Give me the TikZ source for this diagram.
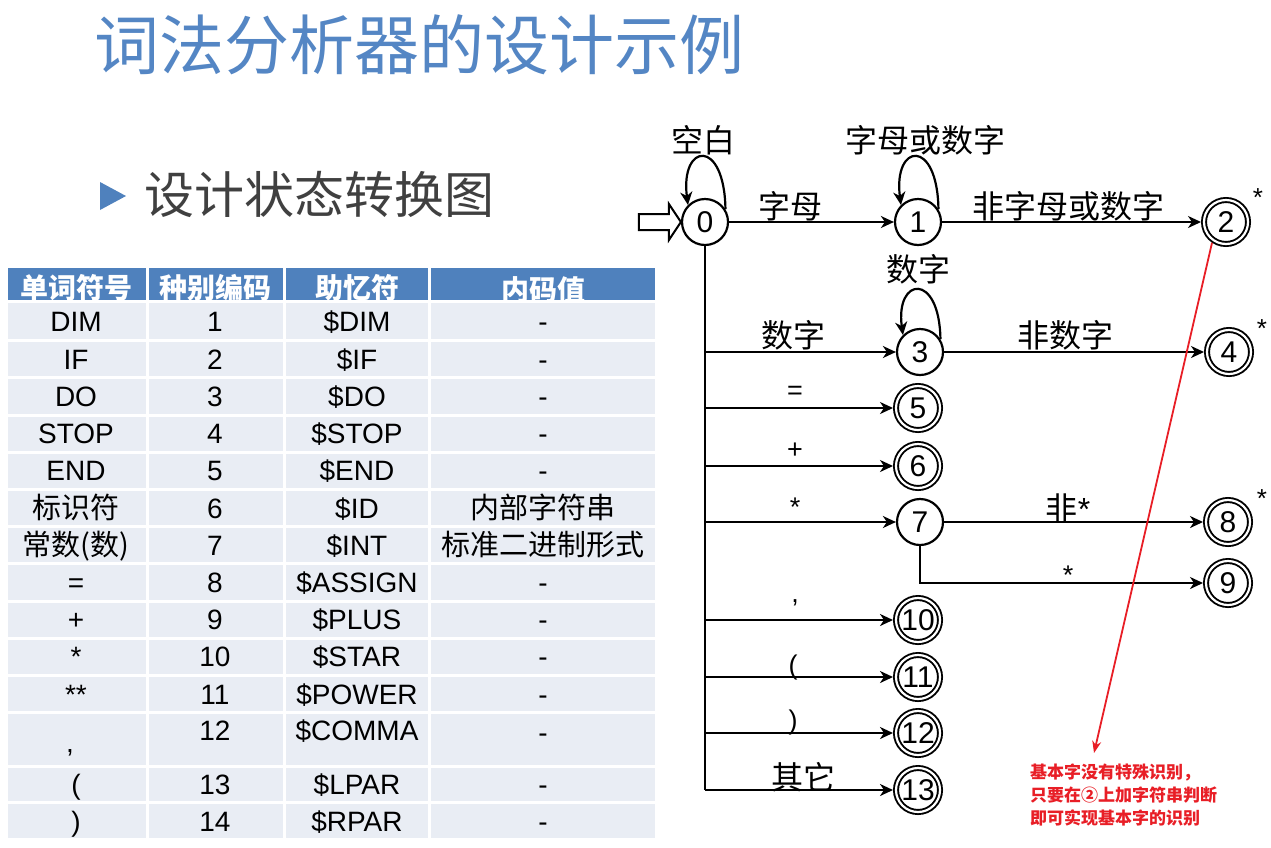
\documentclass[tikz,border=0pt]{standalone}
\usepackage{fontspec}
\setmainfont{Liberation Sans}
\newfontfamily\cjk{Noto Sans CJK SC}
\usetikzlibrary{arrows.meta}
\definecolor{titleblue}{RGB}{84,134,196}
\definecolor{headblue}{RGB}{79,129,189}
\definecolor{cellbg}{RGB}{233,237,244}
\definecolor{bodygray}{RGB}{64,64,64}
\definecolor{notered}{RGB}{232,30,38}

% one body row of the table: fills and texts
\newcommand\tabrow[7]{% #1 name, #2 top, #3 bottom, #4..#7 cell texts
  \fill[cellbg] (8,#2) rectangle (146,#3);
  \fill[cellbg] (149,#2) rectangle (283,#3);
  \fill[cellbg] (286,#2) rectangle (428,#3);
  \fill[cellbg] (431,#2) rectangle (655,#3);
  \path (76,{(#2+#3)/2}) node[cell] (#1a) {#4}
        (215,{(#2+#3)/2}) node[cell] (#1b) {#5}
        (357,{(#2+#3)/2}) node[cell] (#1c) {#6}
        (543,{(#2+#3)/2}) node[cell] (#1d) {#7};
}
\newcommand\zhcell{\cjk\fontsize{29}{30}\selectfont}

\begin{document}
\begin{tikzpicture}[x=1pt,y=-1pt,
  cell/.style={inner sep=0pt, text height=20pt, text depth=0pt, font=\fontsize{28}{30}\selectfont},
  head/.style={inner sep=0pt, text height=21pt, text depth=0pt, text=white, font=\cjk\bfseries\fontsize{28}{30}\selectfont},
  state/.style={circle, draw, line width=2.2pt, minimum size=46pt, inner sep=0pt, font=\fontsize{30}{30}\selectfont},
  accept/.style={state, minimum size=44pt, double, double distance=2.2pt, line width=1.9pt, outer sep=3pt},
  lbl/.style={inner sep=0pt, text height=22pt, text depth=0pt, font=\cjk\fontsize{32}{32}\selectfont},
  sym/.style={inner sep=0pt, font=\fontsize{27}{27}\selectfont},
  star/.style={inner sep=0pt, font=\fontsize{26}{26}\selectfont},
  trans/.style={line width=2.2pt, -{Stealth[length=13pt,width=12pt,inset=4pt]}},
]
\useasboundingbox (0,0) rectangle (1271,847);

% title and bullet line
\node[anchor=west, inner sep=0pt, text=titleblue, font=\cjk\fontsize{65}{65}\selectfont] (title) at (94,45) {词法分析器的设计示例};
\fill[headblue] (100,182) -- (126,196) -- (100,210) -- cycle;
\node[anchor=west, inner sep=0pt, text=bodygray, font=\cjk\fontsize{50}{50}\selectfont] (sub) at (144,194) {设计状态转换图};

% table header
\fill[headblue] (8,268) rectangle (146,300);
\fill[headblue] (149,268) rectangle (283,300);
\fill[headblue] (286,268) rectangle (428,300);
\fill[headblue] (431,268) rectangle (655,300);
\begin{scope}
  \clip (8,266) rectangle (655,300);
  \node[head] (h1) at (76,288) {单词符号};
  \node[head] (h2) at (215,288) {种别编码};
  \node[head] (h3) at (357,288) {助忆符};
  \node[head] (h4) at (543,290) {内码值};
\end{scope}

% table body
\tabrow{r1}{303}{339.2}{DIM}{1}{\$DIM}{-}
\tabrow{r2}{342.2}{376.4}{IF}{2}{\$IF}{-}
\tabrow{r3}{379.4}{413.6}{DO}{3}{\$DO}{-}
\tabrow{r4}{416.6}{450.8}{STOP}{4}{\$STOP}{-}
\tabrow{r5}{453.8}{488}{END}{5}{\$END}{-}
\tabrow{r6}{491}{525.2}{\zhcell 标识符}{6}{\$ID}{\zhcell 内部字符串}
\tabrow{r7}{528.2}{562.4}{\zhcell 常数(数)}{7}{\$INT}{\zhcell 标准二进制形式}
\tabrow{r8}{565.4}{599.6}{=}{8}{\$ASSIGN}{-}
\tabrow{r9}{602.6}{636.8}{+}{9}{\$PLUS}{-}
\tabrow{r10}{639.8}{674}{*}{10}{\$STAR}{-}
\tabrow{r11}{677}{711.2}{**}{11}{\$POWER}{-}
\fill[cellbg] (8,714.2) rectangle (146,764.5);
\fill[cellbg] (149,714.2) rectangle (283,764.5);
\fill[cellbg] (286,714.2) rectangle (428,764.5);
\fill[cellbg] (431,714.2) rectangle (655,764.5);
\node[cell] (r12a) at (70,742) {,};
\node[cell] (r12b) at (215,730) {12};
\node[cell] (r12c) at (357,730) {\$COMMA};
\node[cell] (r12d) at (543,732) {-};
\tabrow{r13}{767.5}{801}{(}{13}{\$LPAR}{-}
\tabrow{r14}{804}{838}{)}{14}{\$RPAR}{-}

% states
\node[state]  (s0)  at (705,222) {0};
\node[state]  (s1)  at (918,222) {1};
\node[accept] (s2)  at (1226,222) {2};
\node[state]  (s3)  at (920,352) {3};
\node[accept] (s4)  at (1229,352) {4};
\node[accept] (s5)  at (918,408) {5};
\node[accept] (s6)  at (918,466) {6};
\node[state]  (s7)  at (920,522) {7};
\node[accept] (s8)  at (1228,522) {8};
\node[accept] (s9)  at (1228,583) {9};
\node[accept] (s10) at (918,620) {10};
\node[accept] (s11) at (918,677) {11};
\node[accept] (s12) at (918,733) {12};
\node[accept] (s13) at (918,790) {13};

\node[star] (st2) at (1258,198) {*};
\node[star] (st4) at (1262,329) {*};
\node[star] (st8) at (1262,499) {*};

% start marker
\draw[line width=2pt, fill=white] ([shift={(-42,-8)}]s0.west) -- ([shift={(-12,-8)}]s0.west)
  -- ([shift={(-12,-18)}]s0.west) -- (s0.west) -- ([shift={(-12,18)}]s0.west)
  -- ([shift={(-12,8)}]s0.west) -- ([shift={(-42,8)}]s0.west) -- cycle;

% self loops
\draw[trans] (s0.32) .. controls +(-1,-72) and +(-8,-62) .. (s0.135);
\draw[trans] (s1.32) .. controls +(-1,-72) and +(-8,-62) .. (s1.135);
\draw[trans] (s3.32) .. controls +(-1,-68) and +(-8,-58) .. (s3.135);

% transitions
\draw[trans] (s0) -- (s1);
\draw[trans] (s1) -- (s2);
\draw[trans] (s3) -- (s4);
\draw[trans] (s7) -- (s8);
\draw[trans] (s7) |- (s9);
\draw[line width=2.2pt] (s0) -- (s0 |- s13);
\foreach \t in {3,5,6,7,10,11,12,13}
  \draw[trans] (s0 |- s\t) -- (s\t);

% transition labels
\node[lbl] (l0)  at (703,141) {空白};
\node[lbl] (l1)  at (925,141) {字母或数字};
\node[lbl] (l01) at (790,207) {字母};
\node[lbl] (l12) at (1068,207) {非字母或数字};
\node[lbl] (l3)  at (918,270) {数字};
\node[lbl] (l03) at (793,336) {数字};
\node[lbl] (l34) at (1065,336) {非数字};
\node[sym] (l05) at (795,393) {=};
\node[sym] (l06) at (795,451) {+};
\node[sym] (l07) at (795,507) {*};
\node[lbl] (l78) at (1068,509) {非\fontspec{Liberation Sans}*};
\node[sym] (l79) at (1068,575) {*};
\node[sym] (l010) at (795,603) {,};
\node[sym] (l011) at (793,667) {(};
\node[sym] (l012) at (793,722) {)};
\node[lbl] (l013) at (803,778) {其它};

% note
\coordinate (redtip) at (1094,753);
\draw[notered, line width=1.8pt, -{Stealth[length=12pt,width=9pt]}] (s2.236) -- (redtip);
\node[anchor=north west, align=left, inner sep=0pt, text=notered,
      font=\cjk\bfseries\fontsize{17}{23}\selectfont] (note) at (1030,764)
  {基本字没有特殊识别，\\只要在②上加字符串判断\\即可实现基本字的识别};
\end{tikzpicture}
\end{document}
